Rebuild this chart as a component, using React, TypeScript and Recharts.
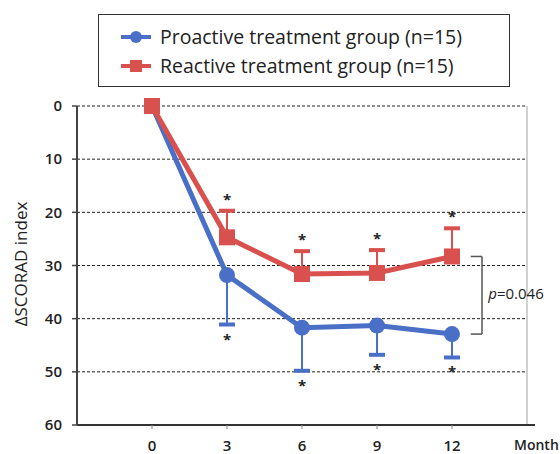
import React from "react";
import {
  ComposedChart,
  Line,
  Scatter,
  XAxis,
  YAxis,
  ErrorBar,
  ReferenceLine,
  ReferenceDot,
  Label,
} from "recharts";

const months = [0, 3, 6, 9, 12];
const proactive = [0, 31.8, 41.7, 41.3, 42.9];
const proactiveSD = [0, 9.3, 8.1, 5.5, 4.4];
const reactive = [0, 24.7, 31.6, 31.4, 28.3];
const reactiveSD = [0, 5.0, 4.3, 4.3, 5.3];
const yTicks = [0, 10, 20, 30, 40, 50, 60];
const gridValues = [0, 10, 20, 30, 40, 50];
const proactiveName = "Proactive treatment group (n=15)";
const reactiveName = "Reactive treatment group (n=15)";
const yLabel = "ΔSCORAD index";
const xLabel = "Month";
const pText = "=0.046";

const BLUE = "#4a6fc7";
const RED = "#d9514e";
const FONT = "'Open Sans', 'DejaVu Sans', sans-serif";

const data = months.map((m, i) => ({
  month: m,
  pro: proactive[i],
  proErr: [0, proactiveSD[i]],
  rea: reactive[i],
  reaErr: [reactiveSD[i], 0],
}));

const proCaps = months
  .map((m, i) => ({ month: m, tip: proactive[i] + proactiveSD[i], sd: proactiveSD[i] }))
  .filter((d) => d.sd > 0);
const reaCaps = months
  .map((m, i) => ({ month: m, tip: reactive[i] - reactiveSD[i], sd: reactiveSD[i] }))
  .filter((d) => d.sd > 0);

const BlueDot = (props: any) => {
  const { cx, cy } = props;
  if (cx == null || cy == null) return null;
  return <circle cx={cx} cy={cy} r={8} fill={BLUE} />;
};
const RedDot = (props: any) => {
  const { cx, cy } = props;
  if (cx == null || cy == null) return null;
  return <rect x={cx - 8} y={cy - 8} width={16} height={16} fill={RED} />;
};

const makeCap = (color: string, below: boolean) => (props: any) => {
  const { cx, cy } = props;
  if (cx == null || cy == null) return null;
  return (
    <g>
      <rect x={cx - 8} y={cy - 2} width={16} height={4} fill={color} />
      <text
        x={cx}
        y={below ? cy + 20 : cy - 6}
        textAnchor="middle"
        fontSize={15}
        fontWeight={700}
        fontFamily={FONT}
        fill="#222"
      >
        *
      </text>
    </g>
  );
};

const PLabel = (props: any) => {
  const { cx, cy } = props;
  if (cx == null || cy == null) return null;
  return (
    <text x={cx} y={cy + 5} fontSize={15} fontFamily={FONT} fill="#222">
      <tspan fontStyle="italic">p</tspan>
      {pText}
    </text>
  );
};

const YTitle = () => (
  <text
    transform="translate(27,264) rotate(-90)"
    textAnchor="middle"
    fontSize={17}
    fontFamily={FONT}
    fill="#222"
  >
    {yLabel}
  </text>
);

const LegendBox = () => (
  <div
    style={{
      position: "absolute",
      left: 98,
      top: 14,
      width: 410,
      height: 71,
      border: "1.5px solid #333",
      background: "#fff",
    }}
  >
    <svg width={410} height={71} style={{ position: "absolute", left: 0, top: 0 }}>
      <line x1={22} x2={52} y1={22} y2={22} stroke={BLUE} strokeWidth={4} />
      <circle cx={37} cy={22} r={6} fill={BLUE} />
      <line x1={22} x2={52} y1={51} y2={51} stroke={RED} strokeWidth={4} />
      <rect x={31} y={45} width={12} height={12} fill={RED} />
      <text x={61} y={29} fontFamily={FONT} fontSize={19.5} fill="#222">
        {proactiveName}
      </text>
      <text x={61} y={58} fontFamily={FONT} fontSize={19.5} fill="#222">
        {reactiveName}
      </text>
    </svg>
  </div>
);

export default function App() {
  return (
    <div style={{ position: "absolute", left: 0, top: 0, width: 560, height: 454, background: "#fff" }}>
      <ComposedChart
        width={560}
        height={454}
        data={data}
        margin={{ top: 106, right: 25, bottom: 0, left: 30 }}
      >
        <XAxis
          dataKey="month"
          type="number"
          domain={[-3, 15.32]}
          ticks={months}
          allowDataOverflow
          axisLine={{ stroke: "#333", strokeWidth: 2 }}
          tickLine={{ stroke: "#888" }}
          tickSize={4}
          tickMargin={11}
          height={29}
          tick={{ fontSize: 15, fontWeight: 600, fill: "#222", fontFamily: FONT }}
        />
        <YAxis
          type="number"
          reversed
          domain={[0, 60]}
          ticks={yTicks}
          width={47}
          axisLine={{ stroke: "#444", strokeWidth: 2 }}
          tickLine={{ stroke: "#444", strokeWidth: 1.5 }}
          tickSize={5}
          tickMargin={10}
          tick={{ fontSize: 15, fontWeight: 600, fill: "#222", fontFamily: FONT }}
        >
          <Label content={<YTitle />} />
        </YAxis>
        {gridValues.map((v) => (
          <ReferenceLine
            key={v}
            segment={[
              { x: -3, y: v },
              { x: 15, y: v },
            ]}
            stroke="#222"
            strokeWidth={1}
            strokeDasharray="3 2"
          />
        ))}
        <ReferenceLine
          segment={[
            { x: 15, y: 0 },
            { x: 15, y: 60 },
          ]}
          stroke="#d0d0d0"
          strokeWidth={2}
        />
        <ReferenceLine
          segment={[
            { x: 12.75, y: 28.3 },
            { x: 13.2, y: 28.3 },
          ]}
          stroke="#555"
          strokeWidth={1.5}
        />
        <ReferenceLine
          segment={[
            { x: 13.2, y: 28.3 },
            { x: 13.2, y: 42.9 },
          ]}
          stroke="#555"
          strokeWidth={1.5}
        />
        <ReferenceLine
          segment={[
            { x: 12.75, y: 42.9 },
            { x: 13.2, y: 42.9 },
          ]}
          stroke="#555"
          strokeWidth={1.5}
        />
        <ReferenceDot x={13.45} y={35.4} r={0} shape={PLabel} />
        <Line
          dataKey="pro"
          stroke={BLUE}
          strokeWidth={5}
          dot={<BlueDot />}
          activeDot={false}
          isAnimationActive={false}
        >
          <ErrorBar dataKey="proErr" direction="y" width={0} stroke={BLUE} strokeWidth={2} />
        </Line>
        <Line
          dataKey="rea"
          stroke={RED}
          strokeWidth={5}
          dot={<RedDot />}
          activeDot={false}
          isAnimationActive={false}
        >
          <ErrorBar dataKey="reaErr" direction="y" width={0} stroke={RED} strokeWidth={2} />
        </Line>
        <Scatter data={proCaps} dataKey="tip" shape={makeCap(BLUE, true)} isAnimationActive={false} />
        <Scatter data={reaCaps} dataKey="tip" shape={makeCap(RED, false)} isAnimationActive={false} />
      </ComposedChart>
      <LegendBox />
      <div
        style={{
          position: "absolute",
          left: 514,
          top: 435,
          fontFamily: FONT,
          fontSize: 14,
          fontWeight: 600,
          color: "#222",
        }}
      >
        {xLabel}
      </div>
    </div>
  );
}
